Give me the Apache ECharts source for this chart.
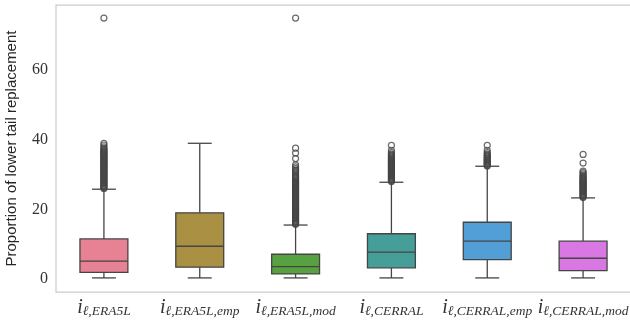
<!DOCTYPE html>
<html>
<head>
<meta charset="utf-8">
<script src="https://cdn.jsdelivr.net/npm/echarts@6/dist/echarts.min.js"></script>
<style>
  html, body { margin: 0; padding: 0; background: #fff; }
  #chart { width: 630px; height: 320px; }
</style>
</head>
<body>
<div id="chart"></div>
<script>
// Product subscripts (variants of the lower-tail index)
const categories = ['ℓ,ERA5L', 'ℓ,ERA5L,emp', 'ℓ,ERA5L,mod', 'ℓ,CERRAL', 'ℓ,CERRAL,emp', 'ℓ,CERRAL,mod'];

// Five-number summaries per product
const lowWhisker  = [0.3, 0.3, 0.3, 0.3, 0.3, 0.3];
const q1          = [1.9, 3.4, 1.45, 3.2, 5.55, 2.4];
const median      = [5.1, 9.4, 3.55, 7.7, 10.85, 5.95];
const q3          = [11.5, 19.0, 7.1, 13.0, 16.3, 10.85];
const highWhisker = [25.8, 39.0, 15.5, 27.8, 32.4, 23.3];

// Outliers per product
const outliersERA5L = [26.0, 26.2, 26.5, 26.7, 27.0, 27.2, 27.5, 27.7, 28.0, 28.2, 28.5, 28.7, 29.0,
  29.2, 29.5, 29.7, 30.0, 30.2, 30.5, 30.7, 31.0, 31.2, 31.5, 31.7, 32.0, 32.2, 32.5, 32.7, 33.0,
  33.2, 33.5, 33.7, 34.0, 34.2, 34.5, 34.7, 35.0, 35.2, 35.5, 35.7, 36.0, 36.2, 36.5, 36.7, 37.0,
  37.3, 37.6, 38.0, 38.5, 39.0, 75.0];
const outliersERA5LEmp = [];
const outliersERA5LMod = [15.7, 15.9, 16.2, 16.4, 16.7, 16.9, 17.2, 17.4, 17.7, 17.9, 18.2, 18.4, 18.7,
  18.9, 19.2, 19.4, 19.7, 19.9, 20.2, 20.4, 20.7, 20.9, 21.2, 21.4, 21.7, 21.9, 22.2, 22.4, 22.7,
  22.9, 23.2, 23.4, 23.7, 23.9, 24.2, 24.4, 24.7, 24.9, 25.2, 25.4, 25.7, 25.9, 26.2, 26.4, 26.7,
  26.9, 27.2, 27.4, 27.7, 27.9, 28.2, 28.5, 28.8, 29.1, 29.4, 29.7, 30.1, 30.5, 30.9, 31.3, 31.7,
  32.2, 32.8, 34.6, 36.2, 37.6, 75.0];
const outliersCERRAL = [28.0, 28.2, 28.5, 28.7, 29.0, 29.2, 29.5, 29.7, 30.0, 30.2, 30.5, 30.7, 31.0,
  31.2, 31.5, 31.7, 32.0, 32.2, 32.5, 32.7, 33.0, 33.2, 33.5, 33.7, 34.0, 34.2, 34.5, 34.7, 35.0,
  35.3, 35.6, 35.9, 36.3, 37.0, 38.4];
const outliersCERRALEmp = [32.5, 32.7, 33.0, 33.2, 33.5, 33.7, 34.0, 34.2, 34.5, 34.7, 35.0, 35.3,
  35.6, 35.9, 36.3, 37.0, 38.4];
const outliersCERRALMod = [23.4, 23.6, 23.9, 24.1, 24.4, 24.6, 24.9, 25.1, 25.4, 25.6, 25.9, 26.1,
  26.4, 26.6, 26.9, 27.1, 27.4, 27.6, 27.9, 28.1, 28.4, 28.6, 28.9, 29.2, 29.5, 29.8, 30.2, 30.6,
  31.0, 33.3, 35.8];
const outliers = [outliersERA5L, outliersERA5LEmp, outliersERA5LMod, outliersCERRAL, outliersCERRALEmp, outliersCERRALMod];

// Y-axis tick labels
const yTicks = [0, 20, 40, 60];

const boxColors = ['#e68294', '#aa9043', '#58a141', '#459e97', '#519fd6', '#d978e2'];
const edgeColor = '#454545';

const boxData = categories.map((c, i) => [i, lowWhisker[i], q1[i], median[i], q3[i], highWhisker[i]]);
const flierData = [];
outliers.forEach((list, i) => list.forEach(v => flierData.push([i, v])));

const chart = echarts.init(document.getElementById('chart'), null, { renderer: 'canvas' });

chart.setOption({
  animation: false,
  grid: {
    left: 56, top: 5, width: 575, height: 287,
    outerBoundsMode: 'none', containLabel: false,
    show: true, borderColor: '#cccccc', borderWidth: 1.25, backgroundColor: '#fff'
  },
  xAxis: {
    type: 'category',
    data: categories,
    axisLine: { show: false },
    axisTick: { show: false },
    splitLine: { show: false },
    axisLabel: {
      margin: 6,
      interval: 0,
      hideOverlap: false,
      formatter: v => '{i|i}{s|' + v + '}',
      rich: {
        i: { fontFamily: 'Liberation Serif', fontStyle: 'italic', fontSize: 20, color: '#333', lineHeight: 20 },
        s: { fontFamily: 'Liberation Serif', fontStyle: 'italic', fontSize: 13.5, color: '#333', lineHeight: 14, verticalAlign: 'bottom' }
      }
    }
  },
  yAxis: {
    type: 'value',
    min: -3.75,
    max: 78.75,
    name: 'Proportion of lower tail replacement',
    nameLocation: 'middle',
    nameGap: 37,
    nameTextStyle: { fontFamily: 'Liberation Sans', fontSize: 15, color: '#262626' },
    axisLine: { show: false },
    axisTick: { show: false },
    splitLine: { show: false },
    axisLabel: {
      customValues: yTicks,
      margin: 8,
      fontFamily: 'Liberation Serif',
      fontSize: 16,
      color: '#333'
    }
  },
  series: [
    {
      type: 'custom',
      data: boxData,
      z: 2,
      renderItem: function (params, api) {
        const x = api.value(0);
        const band = api.size([1, 0])[0];
        const bw = band * 0.5;
        const cw = bw * 0.5;
        const pLo = api.coord([x, api.value(1)]);
        const pQ1 = api.coord([x, api.value(2)]);
        const pMed = api.coord([x, api.value(3)]);
        const pQ3 = api.coord([x, api.value(4)]);
        const pHi = api.coord([x, api.value(5)]);
        const cx = pQ1[0];
        const line = { stroke: edgeColor, lineWidth: 1.3 };
        return {
          type: 'group',
          children: [
            { type: 'line', shape: { x1: cx, y1: pQ1[1], x2: cx, y2: pLo[1] }, style: line },
            { type: 'line', shape: { x1: cx, y1: pQ3[1], x2: cx, y2: pHi[1] }, style: line },
            { type: 'line', shape: { x1: cx - cw / 2, y1: pLo[1], x2: cx + cw / 2, y2: pLo[1] }, style: line },
            { type: 'line', shape: { x1: cx - cw / 2, y1: pHi[1], x2: cx + cw / 2, y2: pHi[1] }, style: line },
            { type: 'rect', shape: { x: cx - bw / 2, y: pQ3[1], width: bw, height: pQ1[1] - pQ3[1] },
              style: { fill: boxColors[params.dataIndex], stroke: edgeColor, lineWidth: 1.3 } },
            { type: 'line', shape: { x1: cx - bw / 2, y1: pMed[1], x2: cx + bw / 2, y2: pMed[1] }, style: line }
          ]
        };
      }
    },
    {
      type: 'scatter',
      data: flierData,
      z: 3,
      symbol: 'circle',
      symbolSize: 6,
      itemStyle: { color: 'rgba(255,255,255,0)', borderColor: edgeColor, borderWidth: 1.2 }
    }
  ]
});
</script>
</body>
</html>
